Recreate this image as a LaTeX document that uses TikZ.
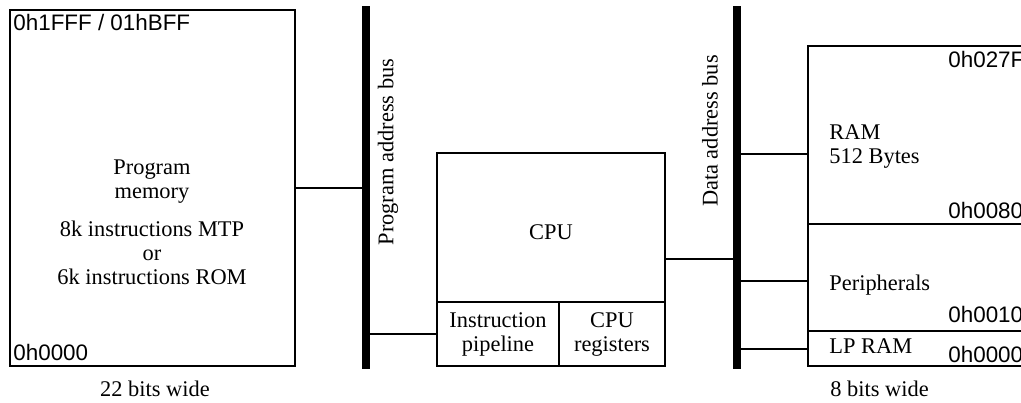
\documentclass[tikz,border=0pt]{standalone}
\usepackage{fontspec}
\setmainfont{Liberation Serif}
\setsansfont{Liberation Sans}
\usetikzlibrary{positioning,calc}

\tikzset{
    block/.style={draw, line width=1pt, inner sep=0pt, outer sep=0pt, anchor=north west},
    bus/.style={fill=black, inner sep=0pt, outer sep=0pt, minimum width=4pt},
    addr/.style={font=\sffamily\fontsize{11.2}{12}\selectfont, inner sep=0pt, anchor=base west},
    wire/.style={line width=1pt}
}

\begin{document}
\begin{tikzpicture}[x=0.5pt, y=-0.5pt]
        \tikzstyle{every node}=[font=\fontsize{11.2}{12}\selectfont]
        \useasboundingbox (0,0) rectangle (1021,402);

        % program memory
        \node[block, minimum width=142.5pt, minimum height=178pt] (progmem) at (10,10) {};
        \node[align=center, inner sep=0pt, anchor=north] (progtext) at (152,159)
            {Program\\memory\\[7pt]8k instructions MTP\\or\\6k instructions ROM};
        \node[addr] (progtop) at (13,30) {0h1FFF / 01hBFF};
        \node[addr] (progbot) at (13,360) {0h0000};
        \node[inner sep=0pt, anchor=base] (progwidth) at (155,396) {22 bits wide};

        % buses
        \node[bus, minimum height=181.5pt, anchor=north] (pbus) at (366,6) {};
        \node[bus, minimum height=181.5pt, anchor=north] (dbus) at (737,6) {};
        \node[rotate=90, inner sep=0pt] (pbuslabel) at (388,152) {Program address bus};
        \node[rotate=90, inner sep=0pt] (dbuslabel) at (710,131) {Data address bus};

        % cpu
        \node[block, minimum width=114pt, minimum height=74.5pt] (cpu) at (437,153) {};
        \node[block, minimum width=61pt, minimum height=32pt, align=center] (pipe) at (437,302) {Instruction\\pipeline};
        \node[block, minimum width=53pt, minimum height=32pt, align=center] (regs) at (559,302) {CPU\\registers};
        \node[inner sep=0pt] (cputext) at (551,232) {CPU};

        % data memory
        \node[block, minimum width=112pt, minimum height=89pt] (ram) at (808,46) {};
        \node[block, minimum width=112pt, minimum height=53.5pt] (periph) at (808,224) {};
        \node[block, minimum width=112pt, minimum height=17.5pt] (lpram) at (808,331) {};
        \node[align=left, inner sep=0pt, anchor=base west] (ramtext) at (829,163) {RAM\\512 Bytes};
        \node[inner sep=0pt, anchor=base west] (periphtext) at (829,290) {Peripherals};
        \node[inner sep=0pt, anchor=base west] (lpramtext) at (829,353) {LP RAM};
        \node[addr] (ramtop) at (948,67) {0h027F};
        \node[addr] (rambot) at (948,218) {0h0080};
        \node[addr] (periphbot) at (948,322) {0h0010};
        \node[addr] (lprambot) at (948,362) {0h0000};
        \node[inner sep=0pt, anchor=base west] (datawidth) at (830,396) {8 bits wide};

        % connections
        \draw[wire] (progmem.east) -- (progmem.east -| pbus.center);
        \draw[wire] (pipe.west) -- (pipe.west -| pbus.center);
        \draw[wire] ($(cpu.east)+(0,31)$) coordinate (cpuout) -- (cpuout -| dbus.center);
        \draw[wire] ($(ram.west)+(0,19)$) coordinate (ramin) -- (ramin -| dbus.center);
        \draw[wire] ($(periph.west)+(0,3)$) coordinate (periphin) -- (periphin -| dbus.center);
        \draw[wire] (lpram.west) -- (lpram.west -| dbus.center);
\end{tikzpicture}
\end{document}
